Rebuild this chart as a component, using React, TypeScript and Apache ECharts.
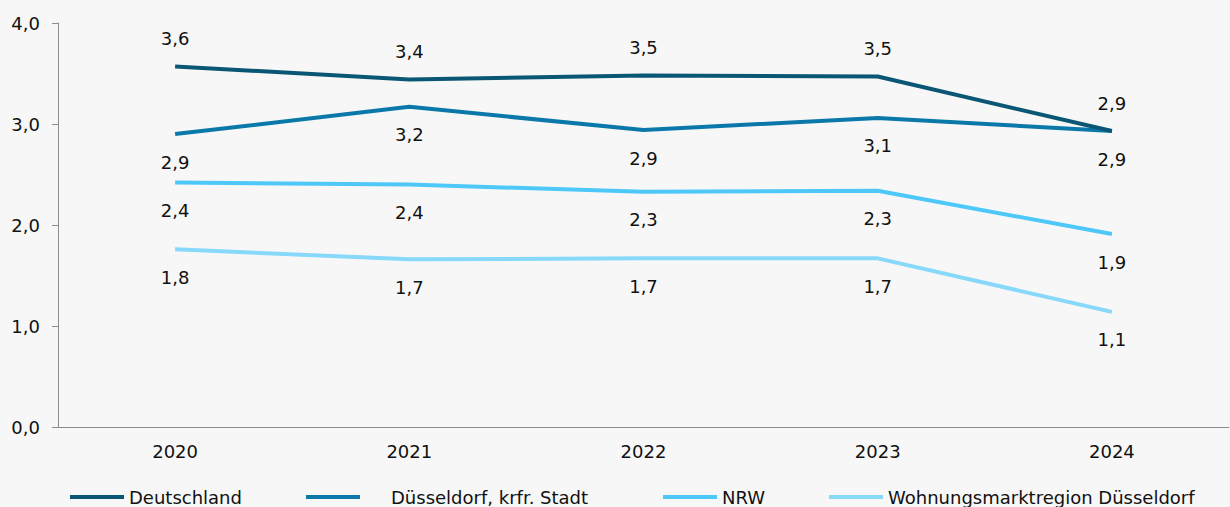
import React, { useEffect, useRef } from "react";
import * as echarts from "echarts";

const categories = ["2020", "2021", "2022", "2023", "2024"];
const deutschland = [3.57, 3.44, 3.48, 3.47, 2.93];
const duesseldorf = [2.9, 3.17, 2.94, 3.06, 2.93];
const nrw = [2.42, 2.4, 2.33, 2.34, 1.91];
const wohnungsmarkt = [1.76, 1.66, 1.67, 1.67, 1.14];
const yTicks = [0, 1, 2, 3, 4];

const seriesNames = [
  "Deutschland",
  "Düsseldorf, krfr. Stadt",
  "NRW",
  "Wohnungsmarktregion Düsseldorf",
];
const colors = ["#0a5675", "#0a78a8", "#4ec8f8", "#88d8fa"];
const labelPos = ["top", "bottom", "bottom", "bottom"];
const legendLeft = [70, 306, 663, 829];

const FONT = "DejaVu Sans";
const fmt = (v: number) => v.toFixed(1).replace(".", ",");

export default function App() {
  const ref = useRef<HTMLDivElement>(null);
  useEffect(() => {
    if (!ref.current) return;
    const chart = echarts.init(ref.current, undefined, { renderer: "svg" });
    const datasets = [deutschland, duesseldorf, nrw, wohnungsmarkt];
    chart.setOption({
      animation: false,
      backgroundColor: "#f7f7f7",
      grid: { left: 58, right: 1, top: 23, bottom: 80, containLabel: false },
      xAxis: {
        type: "category",
        data: categories,
        boundaryGap: true,
        axisLine: { lineStyle: { color: "#8c8c8c", width: 1 } },
        axisTick: { alignWithLabel: true, length: 6, lineStyle: { color: "#8c8c8c" } },
        axisLabel: { color: "#111", fontFamily: FONT, fontSize: 18, margin: 15 },
      },
      yAxis: {
        type: "value",
        min: yTicks[0],
        max: yTicks[yTicks.length - 1],
        interval: 1,
        splitLine: { show: false },
        axisLine: { show: true, lineStyle: { color: "#8c8c8c", width: 1 } },
        axisTick: { show: true, length: 6, lineStyle: { color: "#8c8c8c" } },
        axisLabel: {
          color: "#111",
          fontFamily: FONT,
          fontSize: 18,
          margin: 18,
          formatter: (v: number) => fmt(v),
        },
      },
      legend: seriesNames.map((n, i) => ({
        data: [n],
        left: legendLeft[i],
        top: 488,
        icon: "rect",
        itemWidth: 54,
        itemHeight: 4,
        itemGap: 0,
        padding: 0,
        selectedMode: false,
        textStyle: {
          color: "#111",
          fontFamily: FONT,
          fontSize: 18,
          padding: i === 1 ? [0, 0, 0, 26] : 0,
        },
      })),
      series: datasets.map((d, i) => ({
        name: seriesNames[i],
        type: "line",
        data: d,
        color: colors[i],
        symbol: "circle",
        symbolSize: 0,
        showSymbol: true,
        lineStyle: { color: colors[i], width: 4 },
        itemStyle: { color: colors[i] },
        z: 10 - i,
        label: {
          show: true,
          position: labelPos[i],
          distance: 19,
          color: "#111",
          fontFamily: FONT,
          fontSize: 18,
          formatter: (p: any) => fmt(p.value),
        },
      })),
    });
    return () => chart.dispose();
  }, []);
  return (
    <div
      ref={ref}
      style={{ position: "fixed", left: 0, top: 0, width: 1230, height: 507 }}
    />
  );
}
